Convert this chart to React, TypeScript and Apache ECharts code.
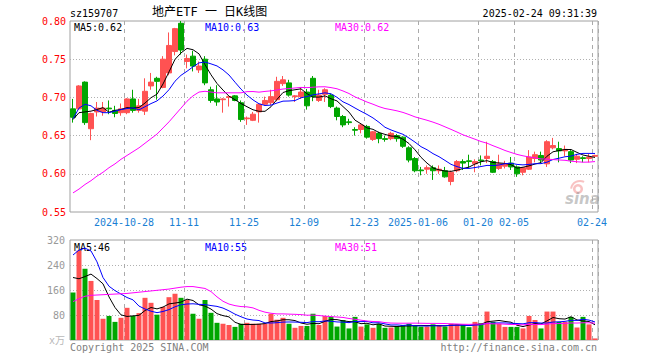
import React, { useEffect, useRef } from 'react';
import * as echarts from 'echarts';

const dates = [
  '2024-10-15','2024-10-16','2024-10-17','2024-10-18','2024-10-21','2024-10-22','2024-10-23','2024-10-24','2024-10-25',
  '2024-10-28','2024-10-29','2024-10-30','2024-10-31','2024-11-01','2024-11-04','2024-11-05','2024-11-06','2024-11-07','2024-11-08',
  '2024-11-11','2024-11-12','2024-11-13','2024-11-14','2024-11-15','2024-11-18','2024-11-19','2024-11-20','2024-11-21','2024-11-22',
  '2024-11-25','2024-11-26','2024-11-27','2024-11-28','2024-11-29','2024-12-02','2024-12-03','2024-12-04','2024-12-05','2024-12-06',
  '2024-12-09','2024-12-10','2024-12-11','2024-12-12','2024-12-13','2024-12-16','2024-12-17','2024-12-18','2024-12-19','2024-12-20',
  '2024-12-23','2024-12-24','2024-12-25','2024-12-26','2024-12-27','2024-12-30','2024-12-31','2025-01-02','2025-01-03',
  '2025-01-06','2025-01-07','2025-01-08','2025-01-09','2025-01-10','2025-01-13','2025-01-14','2025-01-15','2025-01-16','2025-01-17',
  '2025-01-20','2025-01-21','2025-01-22','2025-01-23','2025-01-24','2025-01-27',
  '2025-02-05','2025-02-06','2025-02-07','2025-02-10','2025-02-11','2025-02-12','2025-02-13','2025-02-14',
  '2025-02-17','2025-02-18','2025-02-19','2025-02-20','2025-02-21','2025-02-24',
];

const opens = [
  0.685,0.685,0.720,0.659,0.681,0.681,0.686,0.683,0.680,0.680,
  0.698,0.683,0.682,0.715,0.725,0.713,0.732,0.760,0.797,0.747,
  0.754,0.736,0.750,0.710,0.698,0.697,0.700,0.702,0.693,0.672,
  0.670,0.681,0.691,0.693,0.697,0.718,0.719,0.701,0.701,0.707,
  0.725,0.696,0.704,0.703,0.686,0.675,0.668,0.658,0.658,0.662,
  0.645,0.653,0.646,0.646,0.650,0.648,0.634,0.620,0.605,0.606,
  0.608,0.604,0.604,0.590,0.604,0.616,0.617,0.613,0.618,0.620,
  0.616,0.607,0.610,0.614,0.609,0.602,0.606,0.620,0.624,0.613,
  0.634,0.633,0.630,0.629,0.619,0.621,0.620,0.623,
];
const closes = [
  0.674,0.715,0.667,0.679,0.686,0.686,0.685,0.679,0.685,0.698,
  0.683,0.689,0.708,0.720,0.721,0.750,0.768,0.790,0.762,0.751,
  0.741,0.741,0.719,0.696,0.694,0.698,0.701,0.696,0.671,0.673,
  0.678,0.691,0.696,0.701,0.721,0.723,0.703,0.702,0.707,0.689,
  0.701,0.703,0.710,0.688,0.675,0.664,0.667,0.657,0.664,0.648,
  0.655,0.646,0.645,0.653,0.646,0.636,0.618,0.604,0.604,0.608,
  0.604,0.606,0.596,0.602,0.616,0.614,0.616,0.616,0.617,0.623,
  0.602,0.613,0.613,0.609,0.600,0.608,0.622,0.625,0.618,0.642,
  0.637,0.630,0.632,0.618,0.623,0.620,0.622,0.624,
];
const highs = [
  0.698,0.716,0.721,0.680,0.694,0.694,0.696,0.689,0.692,0.699,
  0.710,0.698,0.725,0.732,0.727,0.754,0.785,0.791,0.800,0.756,
  0.761,0.747,0.754,0.714,0.716,0.699,0.702,0.703,0.696,0.675,
  0.681,0.691,0.701,0.710,0.727,0.728,0.723,0.703,0.713,0.711,
  0.728,0.710,0.712,0.705,0.688,0.677,0.672,0.661,0.665,0.664,
  0.656,0.655,0.650,0.655,0.652,0.649,0.636,0.622,0.609,0.611,
  0.611,0.611,0.609,0.604,0.618,0.619,0.625,0.619,0.624,0.642,
  0.618,0.625,0.617,0.622,0.611,0.609,0.631,0.629,0.629,0.644,
  0.647,0.642,0.637,0.631,0.626,0.623,0.626,0.625,
];
const lows = [
  0.667,0.684,0.664,0.644,0.675,0.676,0.678,0.674,0.676,0.678,
  0.680,0.680,0.677,0.710,0.697,0.712,0.729,0.755,0.756,0.738,
  0.734,0.732,0.716,0.693,0.689,0.680,0.688,0.695,0.668,0.664,
  0.669,0.667,0.689,0.690,0.695,0.715,0.701,0.694,0.698,0.684,
  0.695,0.694,0.694,0.686,0.670,0.661,0.664,0.650,0.653,0.646,
  0.643,0.640,0.642,0.644,0.642,0.634,0.615,0.602,0.598,0.600,
  0.592,0.600,0.595,0.585,0.602,0.605,0.608,0.602,0.611,0.614,
  0.601,0.605,0.607,0.605,0.596,0.598,0.605,0.615,0.614,0.609,
  0.632,0.615,0.623,0.614,0.614,0.615,0.615,0.622,
];
// volume, x万
const volumes = [
  152,286,228,189,128,68,77,58,71,103,
  77,86,135,119,81,106,137,148,135,128,
  84,68,128,87,55,52,48,42,52,55,
  52,52,52,84,65,71,52,39,45,45,
  84,48,77,74,43,64,37,74,43,50,
  39,52,39,40,45,48,52,45,43,43,
  50,48,43,52,50,48,41,58,54,91,
  58,52,42,42,42,37,77,64,37,91,
  91,58,58,74,40,74,50,5,
];

// moving-average values for the first days (they depend on days before the window)
const ma5Head = [0.671, 0.680, 0.681, 0.682];
const ma10Head = [0.672, 0.686, 0.691, 0.689, 0.683, 0.680, 0.680, 0.682, 0.684];
const ma30Head = [
  0.575,0.580,0.586,0.591,0.597,0.602,0.608,0.613,0.619,0.624,
  0.629,0.634,0.640,0.646,0.652,0.660,0.668,0.677,0.686,0.695,
  0.702,0.707,0.708,0.707,0.706,0.706,0.706,0.706,0.706,
];
const volMa5Head = [200, 196, 203, 211];
const volMa10Head = [272, 288, 294, 285, 250, 200, 172, 158, 147];
const volMa30Head = [
  123,132,140,143,144,145,146,147,148,149,
  151,153,155,157,159,161,163,166,169,171,
  171,168,165,155,138,124,115,110,107,
];

const labelIndices = [9, 19, 29, 39, 49, 58, 68, 74, 87];
const priceLegend = ['MA5:0.62', 'MA10:0.63', 'MA30:0.62'];
const volLegend = ['MA5:46', 'MA10:55', 'MA30:51'];

function movingAvg(values: number[], n: number, head: number[]) {
  return values.map((_, i) => {
    if (i < n - 1) return head[i];
    let s = 0;
    for (let k = i - n + 1; k <= i; k++) s += values[k];
    return s / n;
  });
}

const RED = '#ff5252';
const GREEN = '#00a600';
const MONO = '"DejaVu Sans Mono", "Liberation Mono", monospace';
const FONT = `10px ${MONO}`;

export default function App() {
  const ref = useRef<HTMLDivElement>(null);
  useEffect(() => {
    if (!ref.current) return;
    const chart = echarts.init(ref.current, undefined, { renderer: 'svg' });
    const labelSet = new Set(labelIndices);
    const candleData = dates.map((_, i) => [opens[i], closes[i], lows[i], highs[i]]);
    const volData = volumes.map((v, i) => ({
      value: v,
      itemStyle: { color: closes[i] >= opens[i] ? RED : GREEN },
    }));
    const ma5 = movingAvg(closes, 5, ma5Head);
    const ma10 = movingAvg(closes, 10, ma10Head);
    const ma30 = movingAvg(closes, 30, ma30Head);
    const vma5 = movingAvg(volumes, 5, volMa5Head);
    const vma10 = movingAvg(volumes, 10, volMa10Head);
    const vma30 = movingAvg(volumes, 30, volMa30Head);

    let lastYear = '';
    const labelText: Record<number, string> = {};
    labelIndices.forEach((idx) => {
      const d = dates[idx];
      const y = d.slice(0, 4);
      labelText[idx] = y !== lastYear ? d : d.slice(5);
      lastYear = y;
    });

    const splitV = {
      show: true,
      interval: (i: number) => labelSet.has(i),
      lineStyle: { color: '#aaaaaa', type: [4, 4], width: 1 },
    };
    const splitH = {
      show: true,
      showMinLine: false,
      showMaxLine: false,
      lineStyle: { color: '#b0b0b0', type: [1, 2], width: 1 },
    };
    const line = (data: number[], color: string, xi: number) => ({
      type: 'line',
      xAxisIndex: xi,
      yAxisIndex: xi,
      data,
      symbol: 'none',
      silent: true,
      lineStyle: { color, width: 1 },
      itemStyle: { color },
    });
    const txt = (text: string, x: number, y: number, fill: string, align = 'left', font = FONT) => ({
      type: 'text',
      x,
      y,
      silent: true,
      style: { text, fill, font, align, verticalAlign: 'middle' },
    });

    chart.setOption({
      animation: false,
      backgroundColor: '#ffffff',
      grid: [
        { left: 70, top: 21, width: 528, height: 191, show: true, borderColor: '#a0a0a0', borderWidth: 1, backgroundColor: 'transparent' },
        { left: 70, top: 240, width: 528, height: 100, show: true, borderColor: '#a0a0a0', borderWidth: 1, backgroundColor: 'transparent' },
      ],
      xAxis: [
        {
          type: 'category', gridIndex: 0, data: dates, boundaryGap: true,
          axisLine: { show: false }, axisTick: { show: false },
          axisLabel: {
            interval: (i: number) => labelSet.has(i),
            formatter: (_v: string, i: number) => labelText[i] || '',
            color: '#1a7fd4', fontFamily: MONO, fontSize: 10, margin: 5,
            padding: [0, 6, 0, 0],
          },
          splitLine: splitV,
        },
        {
          type: 'category', gridIndex: 1, data: dates, boundaryGap: true,
          axisLine: { show: false }, axisTick: { show: false }, axisLabel: { show: false },
          splitLine: splitV,
        },
      ],
      yAxis: [
        {
          type: 'value', gridIndex: 0, min: 0.55, max: 0.8, interval: 0.05,
          axisLine: { show: false }, axisTick: { show: false },
          axisLabel: { formatter: (v: number) => v.toFixed(2), color: '#ff0000', fontFamily: MONO, fontSize: 10, margin: 4 },
          splitLine: splitH,
        },
        {
          type: 'value', gridIndex: 1, min: 0, max: 320, interval: 80,
          axisLine: { show: false }, axisTick: { show: false },
          axisLabel: {
            formatter: (v: number) => (v === 0 ? '{u|x万}' : String(v)),
            color: '#999999', fontFamily: MONO, fontSize: 10, margin: 5,
            rich: { u: { color: '#b8b8b8', fontSize: 10, fontFamily: '"DejaVu Sans Mono", "Noto Sans CJK SC"', verticalAlign: 'bottom' } },
          },
          splitLine: splitH,
        },
      ],
      series: [
        {
          type: 'candlestick', xAxisIndex: 0, yAxisIndex: 0, data: candleData, barWidth: 5,
          itemStyle: { color: RED, color0: GREEN, borderColor: RED, borderColor0: GREEN, borderWidth: 1 },
        },
        line(ma5, '#000000', 0),
        line(ma10, '#0000ff', 0),
        line(ma30, '#ff00ff', 0),
        { type: 'bar', xAxisIndex: 1, yAxisIndex: 1, data: volData, barWidth: 5 },
        line(vma5, '#000000', 1),
        line(vma10, '#0000ff', 1),
        line(vma30, '#ff00ff', 1),
      ],
      graphic: [
        txt('sz159707', 70, 13, '#000'),
        txt('地产ETF 一 日K线图', 152, 12, '#000', 'left', '12px "DejaVu Sans Mono", "Noto Sans CJK SC"'),
        txt('2025-02-24 09:31:39', 597, 13, '#000', 'right'),
        txt(priceLegend[0], 74, 27, '#000'),
        txt(priceLegend[1], 205, 27, '#0000ff'),
        txt(priceLegend[2], 335, 27, '#ff00ff'),
        txt(volLegend[0], 74, 247, '#000'),
        txt(volLegend[1], 205, 247, '#0000ff'),
        txt(volLegend[2], 335, 247, '#ff00ff'),
        txt('Copyright 2025 SINA.COM', 70, 347, '#808080'),
        txt('http://finance.sina.com.cn', 597, 347, '#808080', 'right'),
        {
          type: 'ring', silent: true,
          shape: { cx: 578, cy: 189, r: 5, r0: 2.5 },
          style: { fill: 'rgba(240,120,120,0.45)' },
        },
        {
          type: 'arc', silent: true,
          shape: { cx: 580, cy: 190, r: 9, startAngle: -Math.PI * 0.95, endAngle: -Math.PI * 0.35 },
          style: { stroke: 'rgba(240,120,120,0.45)', lineWidth: 2, fill: 'none' },
        },
        {
          type: 'text', silent: true, x: 565, y: 199,
          style: { text: 'sina', fill: 'rgba(150,150,150,0.55)', font: 'italic bold 15px "DejaVu Sans"', verticalAlign: 'middle' },
        },
      ],
    });
    return () => chart.dispose();
  }, []);
  return <div ref={ref} style={{ position: 'absolute', left: 0, top: 0, width: 660, height: 360 }} />;
}
